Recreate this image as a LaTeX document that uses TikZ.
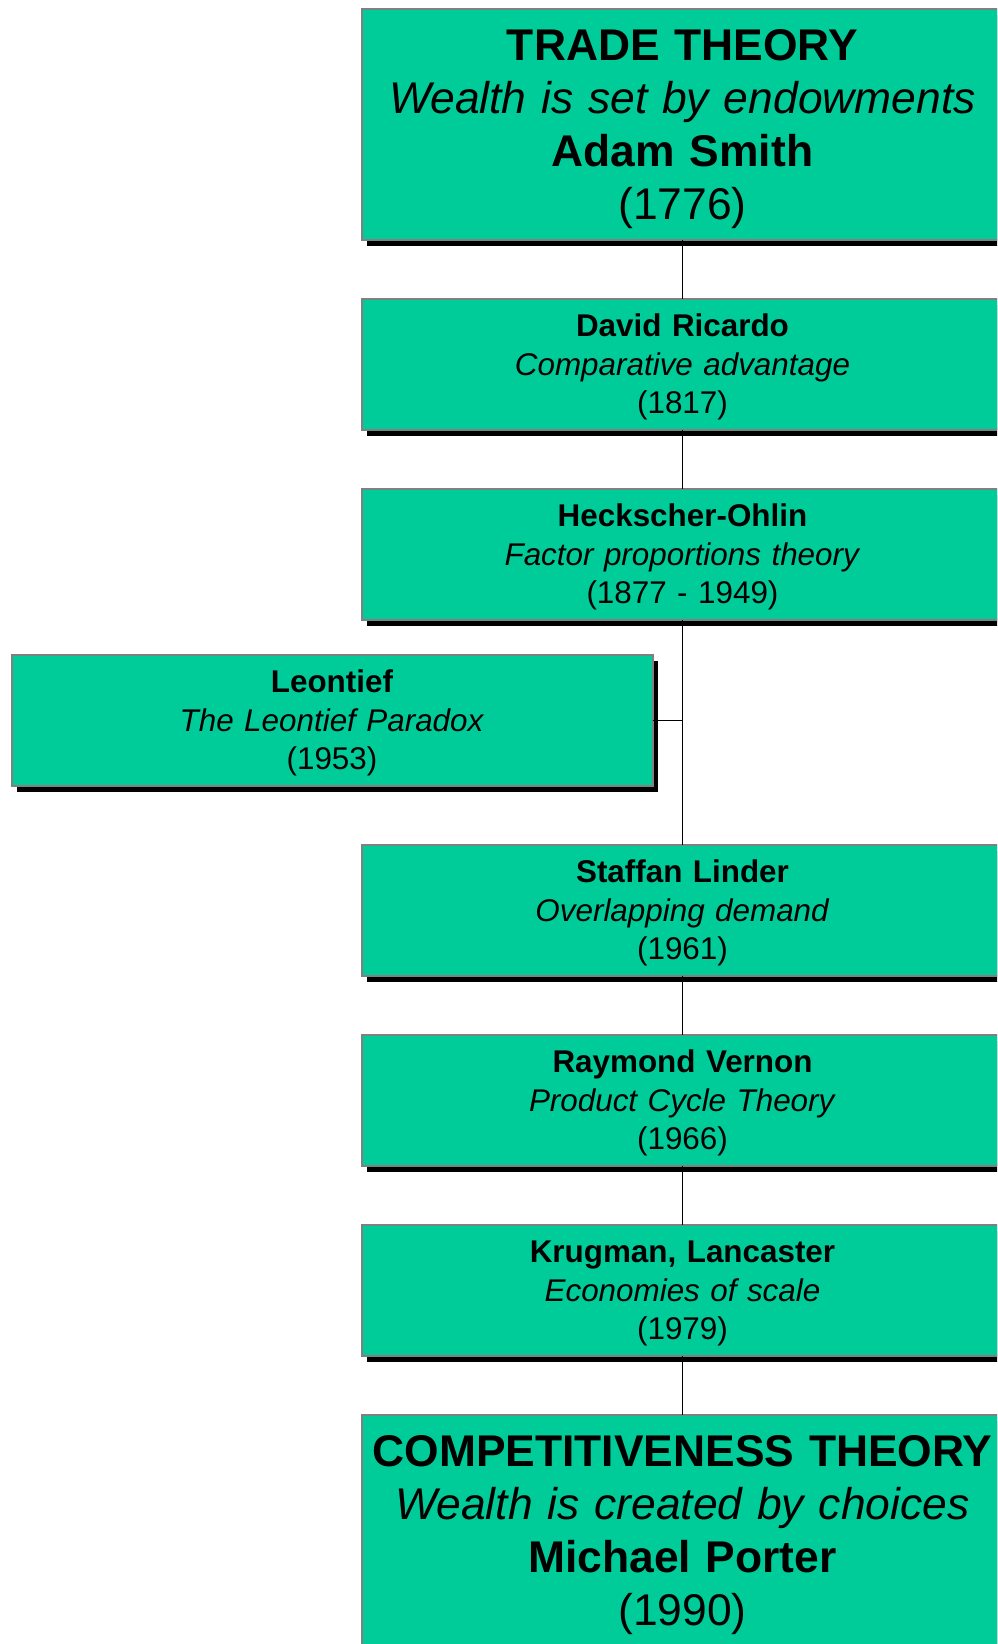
\documentclass[tikz,border=0pt]{standalone}
\usepackage{fontspec}
\setmainfont{Liberation Sans}
\usetikzlibrary{positioning,shadows}
\definecolor{theorygreen}{RGB}{0,204,153}
\definecolor{edgegray}{RGB}{128,128,128}

\begin{document}
\begin{tikzpicture}[
      node distance=59pt,
      theory/.style={rectangle, draw=edgegray, line width=2pt, fill=theorygreen,
        align=center, inner sep=0pt, outer sep=0pt, text width=641pt,
        drop shadow={shadow xshift=5pt, shadow yshift=-6pt, fill=black, opacity=1}},
      bigtheory/.style={theory, minimum height=231pt,
        font=\fontsize{44.4pt}{53pt}\selectfont,
        execute at begin node={\rule{0pt}{41pt}}},
      smalltheory/.style={theory, minimum height=131pt,
        font=\fontsize{31.4pt}{38.5pt}\selectfont,
        execute at begin node={\rule{0pt}{29pt}}},
      link/.style={draw=black, line width=1pt}
    ]
    \fill[white] (0,0) rectangle (997pt,-1644pt);
    \path[use as bounding box] (0,0) rectangle (997pt,-1644pt);
    \clip (0,0) rectangle (997pt,-1644pt);

    \node[bigtheory] (trade) at (682.5pt,-124.5pt) {\textbf{TRADE THEORY}\\\textit{Wealth is set by endowments}\\\textbf{Adam Smith}\\(1776)};
    \node[smalltheory, below=58.5pt of trade] (ricardo) {\textbf{David Ricardo}\\\textit{Comparative advantage}\\(1817)};
    \node[smalltheory, below=of ricardo] (heckscher) {\textbf{Heckscher-Ohlin}\\\textit{Factor proportions theory}\\(1877 - 1949)};
    \node[smalltheory, anchor=north east] (leontief) at ([xshift=-30pt, yshift=-35pt]heckscher.south) {\textbf{Leontief}\\\textit{The Leontief Paradox}\\(1953)};
    \coordinate (branchgap) at (heckscher.south |- leontief.south);
    \node[smalltheory, below=of branchgap] (linder) {\textbf{Staffan Linder}\\\textit{Overlapping demand}\\(1961)};
    \node[smalltheory, below=of linder] (vernon) {\textbf{Raymond Vernon}\\\textit{Product Cycle Theory}\\(1966)};
    \node[smalltheory, below=of vernon] (krugman) {\textbf{Krugman, Lancaster}\\\textit{Economies of scale}\\(1979)};
    \node[bigtheory, below=of krugman] (porter) {\textbf{COMPETITIVENESS THEORY}\\\textit{Wealth is created by choices}\\\textbf{Michael Porter}\\(1990)};

    \draw[link] (trade) -- (ricardo);
    \draw[link] (ricardo) -- (heckscher);
    \draw[link] (heckscher) -- (linder);
    \draw[link] (leontief.east) -- (leontief.east -| heckscher.south);
    \draw[link] (vernon) -- (krugman);
    \draw[link] (linder) -- (vernon);
    \draw[link] (krugman) -- (porter);
  \end{tikzpicture}
\end{document}
